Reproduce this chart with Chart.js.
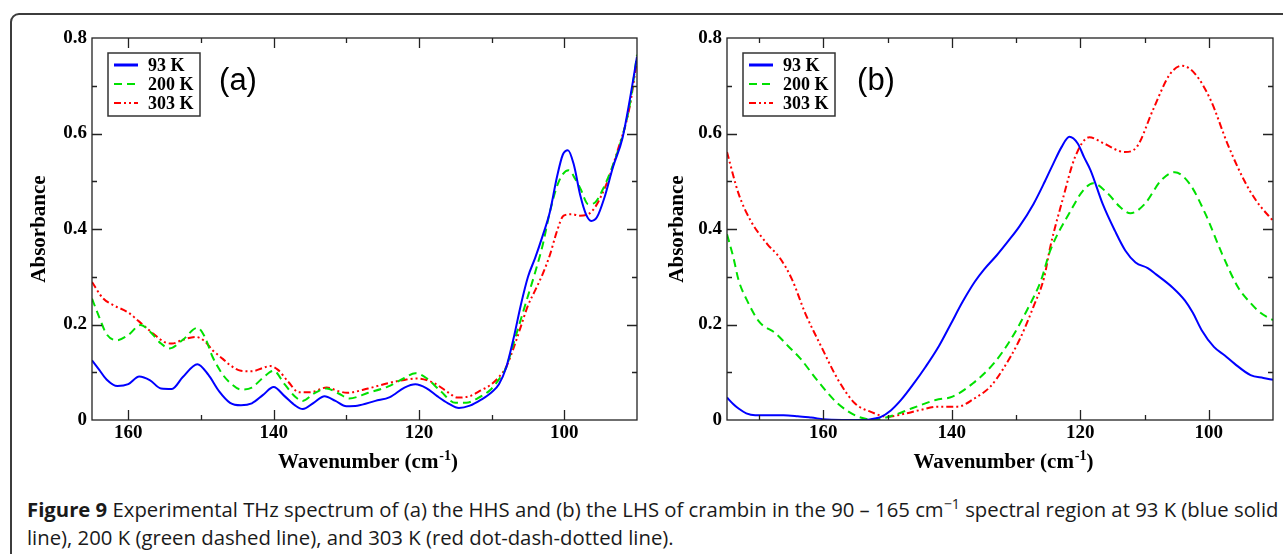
<!DOCTYPE html>
<html>
<head>
<meta charset="utf-8">
<script src="https://cdn.jsdelivr.net/npm/chart.js@4.4.1/dist/chart.umd.min.js"></script>
<style>
    body { margin: 0; background: #fff; width: 1283px; height: 554px; overflow: hidden; position: relative; }
    #frame { position: absolute; left: 10px; top: 13px; width: 1300px; height: 600px; border: 2px solid #3c3c3c; border-radius: 9px; box-sizing: border-box; }
    canvas { position: absolute; top: 0; }
    #chartA { left: 0; }
    #chartB { left: 640px; }
    .caption { position: absolute; left: 27px; font-family: "Open Sans"; font-size: 18px; font-weight: 500; color: #1a1a1a; white-space: nowrap; }
    .caption b { font-weight: 700; }
    .caption sup { font-size: 0.7em; vertical-align: 0.55em; line-height: 0; }
</style>
</head>
<body>
<div id="frame"></div>
<canvas id="chartA" width="650" height="490"></canvas>
<canvas id="chartB" width="643" height="490"></canvas>
<div class="caption" id="cap1" style="top:495px"><b>Figure 9</b> Experimental THz spectrum of (a) the HHS and (b) the LHS of crambin in the 90 – 165 cm<sup>−1</sup> spectral region at 93 K (blue solid</div>
<div class="caption" id="cap2" style="top:523px">line), 200 K (green dashed line), and 303 K (red dot-dash-dotted line).</div>
<script>
// series labels
const seriesLabels = ['93 K', '200 K', '303 K']
const xTicks = [160, 140, 120, 100]
const yTicks = [0, 0.2, 0.4, 0.6, 0.8]

// panel (a) HHS, wavenumber (cm-1) / absorbance
const a93x = [165, 164, 163, 161.5, 160, 158.5, 157, 155.5, 154, 152.5, 150.5, 149, 147.5, 146, 144.5, 143, 141.5, 140, 138.5, 137, 136, 134.5, 133, 131.5, 130, 128.5, 126, 124, 122, 120.5, 119, 117.5, 116, 114.5, 113, 111.5, 110, 109, 108, 107, 106, 105, 104, 103, 102, 101, 100.2, 99.5, 98.7, 97.8, 97, 96.3, 95.5, 94.5, 93.3, 92, 91, 90]
const a93y = [0.125, 0.105, 0.085, 0.071, 0.075, 0.091, 0.083, 0.066, 0.065, 0.090, 0.117, 0.095, 0.060, 0.036, 0.031, 0.035, 0.052, 0.069, 0.050, 0.030, 0.023, 0.036, 0.050, 0.040, 0.029, 0.030, 0.040, 0.048, 0.068, 0.075, 0.067, 0.050, 0.035, 0.025, 0.030, 0.042, 0.058, 0.075, 0.110, 0.170, 0.240, 0.300, 0.340, 0.385, 0.435, 0.510, 0.556, 0.565, 0.535, 0.470, 0.430, 0.417, 0.425, 0.465, 0.530, 0.590, 0.670, 0.761]
const a200x = [165, 164, 163, 161.6, 160, 158.3, 157, 155.5, 154.3, 152.5, 150.5, 149.5, 148.4, 147, 146, 144.5, 143, 141.5, 140, 138.5, 137, 136, 134.5, 132.7, 131, 129.6, 127, 124.3, 122, 120.5, 119, 117, 115, 113.5, 112, 110.2, 109, 108, 107, 106, 105, 104, 103, 102, 101, 100.2, 99.4, 98.5, 97.8, 96.7, 95.8, 94.8, 93.4, 92, 91, 90]
const a200y = [0.254, 0.215, 0.180, 0.167, 0.178, 0.199, 0.185, 0.160, 0.150, 0.168, 0.193, 0.175, 0.132, 0.095, 0.078, 0.064, 0.068, 0.088, 0.103, 0.075, 0.048, 0.040, 0.055, 0.066, 0.055, 0.045, 0.057, 0.070, 0.088, 0.098, 0.088, 0.060, 0.036, 0.036, 0.045, 0.063, 0.085, 0.110, 0.160, 0.210, 0.260, 0.310, 0.365, 0.435, 0.490, 0.515, 0.523, 0.505, 0.485, 0.452, 0.455, 0.480, 0.530, 0.595, 0.660, 0.765]
const a303x = [165, 163.5, 162, 160, 158.5, 156.5, 155, 154, 152.5, 150.7, 149.5, 148.4, 147, 146, 144.5, 143, 141.5, 140.5, 139.4, 138, 136.5, 135, 132.7, 131, 129.9, 127, 124.3, 122, 120.3, 118, 116, 114.7, 113, 111.5, 110.2, 109, 108, 107, 106, 105, 104, 103, 102, 101, 100.1, 99, 97.9, 96.7, 95.8, 95, 93.8, 92.8, 91.1, 90]
const a303y = [0.289, 0.255, 0.240, 0.225, 0.206, 0.180, 0.163, 0.160, 0.168, 0.174, 0.165, 0.146, 0.128, 0.115, 0.103, 0.102, 0.109, 0.113, 0.105, 0.080, 0.058, 0.058, 0.068, 0.060, 0.057, 0.066, 0.077, 0.084, 0.087, 0.078, 0.058, 0.047, 0.050, 0.062, 0.073, 0.090, 0.111, 0.150, 0.195, 0.240, 0.272, 0.305, 0.345, 0.396, 0.428, 0.431, 0.428, 0.431, 0.445, 0.467, 0.510, 0.558, 0.649, 0.754]

// panel (b) LHS
const b93x = [175, 174, 173.2, 172, 170.6, 168, 166.2, 164, 161.9, 159.4, 156, 153.6, 152, 151.1, 149.5, 147.9, 146, 144.1, 142, 140.2, 138.3, 136.4, 135, 133, 131.2, 129.5, 127.3, 125.5, 124.2, 122.9, 121.7, 120.4, 119.4, 118.4, 116.5, 114.6, 113, 111.4, 109.5, 108.2, 105.6, 103.7, 102.5, 101.1, 99.2, 97.5, 96, 93.5, 91.5, 90]
const b93y = [0.047, 0.033, 0.024, 0.014, 0.010, 0.010, 0.010, 0.008, 0.005, 0.001, 0.000, 0.000, 0.003, 0.006, 0.020, 0.042, 0.075, 0.111, 0.155, 0.200, 0.248, 0.290, 0.315, 0.345, 0.375, 0.405, 0.452, 0.500, 0.537, 0.572, 0.593, 0.579, 0.550, 0.523, 0.452, 0.396, 0.355, 0.330, 0.318, 0.305, 0.277, 0.250, 0.225, 0.188, 0.153, 0.135, 0.118, 0.094, 0.088, 0.084]
const b200x = [175, 174, 173.2, 171.9, 170, 167.4, 165.5, 163.6, 161, 157.8, 154.6, 152.1, 149.5, 146.3, 142.5, 139.9, 136.7, 133.5, 130.9, 128.3, 126.1, 124.7, 121.5, 119.6, 118, 115.7, 113.8, 112.2, 110, 107.4, 105.3, 103, 100.5, 97.9, 95.4, 93.5, 92, 90]
const b200y = [0.389, 0.340, 0.293, 0.251, 0.206, 0.181, 0.155, 0.129, 0.084, 0.035, 0.007, 0.001, 0.008, 0.024, 0.042, 0.049, 0.077, 0.118, 0.167, 0.230, 0.293, 0.354, 0.438, 0.480, 0.496, 0.474, 0.446, 0.433, 0.452, 0.502, 0.519, 0.495, 0.431, 0.347, 0.277, 0.245, 0.225, 0.209]
const b303x = [175, 173.2, 171.3, 168.7, 166.8, 164.9, 162.8, 160.3, 157.7, 155.1, 152.6, 150, 147.4, 144.9, 142.3, 139.1, 136.5, 134, 132.1, 129.5, 127.3, 125.6, 124.7, 122.8, 120.8, 118.6, 116.3, 113.1, 111.2, 108.7, 106.1, 104.2, 102.2, 99.7, 97.1, 94.5, 92.6, 90]
const b303y = [0.561, 0.474, 0.417, 0.368, 0.340, 0.295, 0.223, 0.153, 0.084, 0.035, 0.017, 0.007, 0.013, 0.021, 0.028, 0.028, 0.045, 0.070, 0.105, 0.167, 0.237, 0.300, 0.361, 0.459, 0.551, 0.592, 0.579, 0.561, 0.572, 0.649, 0.723, 0.742, 0.726, 0.670, 0.579, 0.502, 0.459, 0.417]

const colors = ['#0000ff', '#00e000', '#ff0000']
const dashes = [[], [8, 5], [7, 3, 2, 3, 2, 3]]

function toPoints(xs, ys) {
    return xs.map((x, i) => ({ x: x, y: ys[i] }))
}

function makeDatasets(series) {
    return series.map((s, i) => ({
        label: seriesLabels[i],
        data: toPoints(s[0], s[1]),
        borderColor: colors[i],
        backgroundColor: colors[i],
        borderWidth: 2,
        borderDash: dashes[i],
        pointRadius: 0,
        fill: false,
        cubicInterpolationMode: 'monotone',
    }))
}

// frame, inward ticks, legend box, panel letter, x title
const panelDecor = {
    id: 'panelDecor',
    afterDraw(chart, args, opts) {
        const ctx = chart.ctx
        const area = chart.chartArea
        const xs = chart.scales.x
        const ys = chart.scales.y
        ctx.save()
        ctx.strokeStyle = '#222'
        ctx.lineWidth = 1.3
        ctx.setLineDash([])
        ctx.strokeRect(area.left, area.top, area.right - area.left, area.bottom - area.top)

        ctx.beginPath()
        xTicks.forEach(v => {
            [v, v - 10, v + 10].forEach((t, k) => {
                if (t <= xs.min || t >= xs.max) return
                const len = k === 0 ? 10 : 5
                const px = Math.round(xs.getPixelForValue(t)) + 0.5
                ctx.moveTo(px, area.bottom); ctx.lineTo(px, area.bottom - len)
                ctx.moveTo(px, area.top); ctx.lineTo(px, area.top + len)
            })
        })
        yTicks.forEach(v => {
            [v, v + 0.1].forEach((t, k) => {
                if (t <= ys.min + 1e-6 || t >= ys.max - 1e-6) return
                const len = k === 0 ? 10 : 5
                const py = Math.round(ys.getPixelForValue(t)) + 0.5
                ctx.moveTo(area.left, py); ctx.lineTo(area.left + len, py)
                ctx.moveTo(area.right, py); ctx.lineTo(area.right - len, py)
            })
        })
        ctx.stroke()

        // legend box
        const bx = area.left + 16, by = 53, bw = 92, bh = 63
        ctx.fillStyle = '#fff'
        ctx.fillRect(bx, by, bw, bh)
        ctx.lineWidth = 1.5
        ctx.strokeStyle = '#333'
        ctx.strokeRect(bx, by, bw, bh)
        ctx.font = 'bold 18px "Liberation Serif"'
        ctx.textBaseline = 'middle'
        ctx.textAlign = 'left'
        const rows = [65, 84, 103]
        chart.data.datasets.forEach((ds, i) => {
            ctx.strokeStyle = ds.borderColor
            ctx.lineWidth = i === 0 ? 3 : 2
            ctx.setLineDash(ds.borderDash)
            ctx.beginPath()
            ctx.moveTo(bx + 6, rows[i]); ctx.lineTo(bx + 30, rows[i])
            ctx.stroke()
            ctx.setLineDash([])
            ctx.fillStyle = '#000'
            ctx.fillText(ds.label, bx + 40, rows[i] + 1)
        })

        // panel letter
        ctx.font = '31px "Liberation Sans"'
        ctx.textAlign = 'center'
        ctx.fillStyle = '#000'
        ctx.fillText(opts.letter, area.left + opts.letterDx, 81)

        // x axis title with superscript
        const cx = (area.left + area.right) / 2 + 3
        const main = 'Wavenumber (cm'
        const sup = '-1'
        ctx.textAlign = 'left'
        ctx.textBaseline = 'alphabetic'
        ctx.font = 'bold 21px "Liberation Serif"'
        const w1 = ctx.measureText(main).width
        const w3 = ctx.measureText(')').width
        ctx.font = 'bold 14px "Liberation Serif"'
        const w2 = ctx.measureText(sup).width
        const x0 = cx - (w1 + w2 + w3) / 2
        ctx.font = 'bold 21px "Liberation Serif"'
        ctx.fillText(main, x0, 468)
        ctx.fillText(')', x0 + w1 + w2 + 1, 468)
        ctx.font = 'bold 14px "Liberation Serif"'
        ctx.fillText(sup, x0 + w1 + 1, 460)
        ctx.restore()
    }
}

function makeChart(id, series, xMax, yWidth, rightPad, titlePad, letter, letterDx) {
    const config = {
        type: 'line',
        data: { datasets: makeDatasets(series) },
        options: {
            responsive: false,
            animation: false,
            layout: { padding: { top: 38, right: rightPad, left: 0, bottom: 0 } },
            plugins: {
                legend: { display: false },
                tooltip: { enabled: false },
                panelDecor: { letter: letter, letterDx: letterDx },
            },
            scales: {
                x: {
                    type: 'linear',
                    reverse: true,
                    min: 90,
                    max: xMax,
                    grid: { display: false, drawTicks: false },
                    border: { display: false },
                    afterBuildTicks: scale => { scale.ticks = xTicks.map(v => ({ value: v })) },
                    afterFit: scale => { scale.height = 70 },
                    ticks: {
                        padding: 2,
                        color: '#000',
                        font: { family: 'Liberation Serif', size: 19, weight: 'bold' },
                        callback: v => String(v),
                    },
                },
                y: {
                    type: 'linear',
                    min: 0,
                    max: 0.8,
                    grid: { display: false, drawTicks: false },
                    border: { display: false },
                    afterBuildTicks: scale => { scale.ticks = yTicks.map(v => ({ value: v })) },
                    afterFit: scale => { scale.width = yWidth },
                    ticks: {
                        padding: 5,
                        color: '#000',
                        font: { family: 'Liberation Serif', size: 19, weight: 'bold' },
                        callback: v => v === 0 ? '0' : v.toFixed(1),
                    },
                    title: {
                        display: true,
                        text: 'Absorbance',
                        color: '#000',
                        font: { family: 'Liberation Serif', size: 21, weight: 'bold' },
                        padding: { top: titlePad, bottom: 0 },
                    },
                },
            },
        },
        plugins: [panelDecor],
    }
    return new Chart(document.getElementById(id), config)
}

let chartA = makeChart('chartA', [[a93x, a93y], [a200x, a200y], [a303x, a303y]], 165, 92, 13, 27, '(a)', 146)
let chartB = makeChart('chartB', [[b93x, b93y], [b200x, b200y], [b303x, b303y]], 175, 87, 10, 25, '(b)', 149)

// stretch caption so that line 1 spans the same width as in the figure
const cap1 = document.getElementById('cap1')
const cap2 = document.getElementById('cap2')
const size = 18 * 1253 / cap1.offsetWidth
cap1.style.fontSize = size + 'px'
cap2.style.fontSize = size + 'px'
</script>
</body>
</html>
